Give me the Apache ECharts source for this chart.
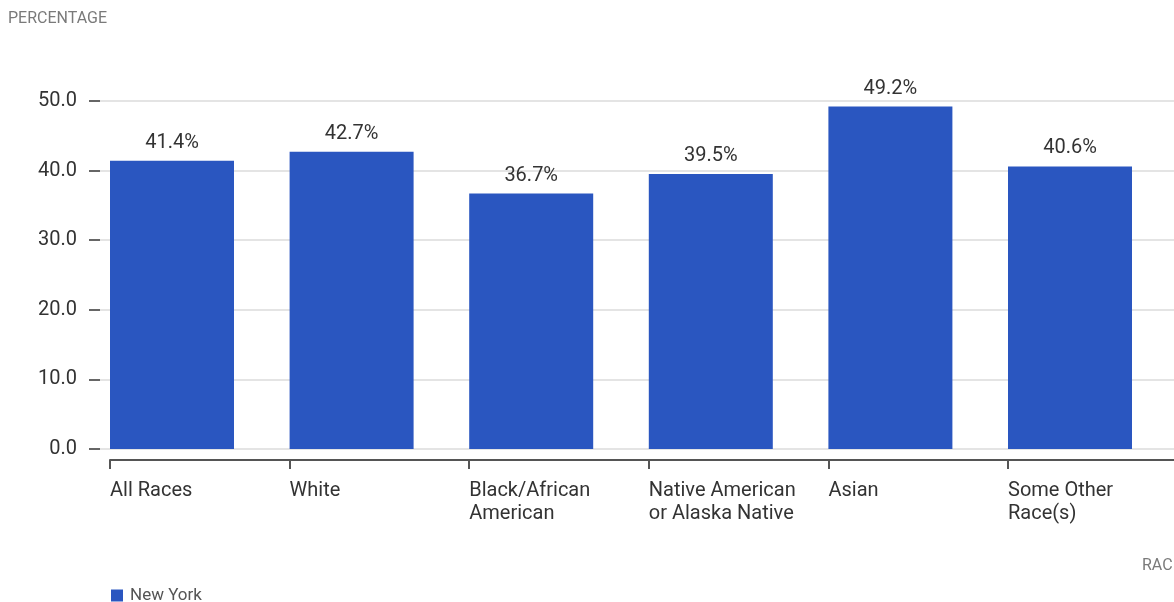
<!DOCTYPE html>
<html>
<head>
<meta charset="utf-8">
<script src="https://cdn.jsdelivr.net/npm/echarts@6/dist/echarts.min.js"></script>
<style>
  html, body { margin: 0; padding: 0; background: #fff; overflow: hidden; }
  /* wider than the window: the last category runs past the right edge */
  #chart { width: 1200px; height: 602px; }
</style>
</head>
<body>
<div id="chart"></div>
<script>
// data
const categories = [
  "All Races",
  "White",
  "Black/African\nAmerican",
  "Native American\nor Alaska Native",
  "Asian",
  "Some Other\nRace(s)",
  "",
];
const newYork = [41.4, 42.7, 36.7, 39.5, 49.2, 40.6, "-"];
const yTicks = [0, 10, 20, 30, 40, 50];

const font = "Roboto";
const barColor = "#2a56c0";

var chartDom = document.getElementById("chart");
var mychart = echarts.init(chartDom);

var option = {
  animation: false,
  title: [
    {
      text: "PERCENTAGE",
      left: 8,
      top: 11,
      padding: 0,
      textStyle: { fontFamily: font, fontSize: 16, fontWeight: "normal", color: "#7a7a7a" },
    },
    {
      text: "RACE",
      left: 1142,
      top: 558,
      padding: 0,
      textStyle: { fontFamily: font, fontSize: 16, fontWeight: "normal", color: "#7a7a7a" },
    },
  ],
  legend: {
    data: ["New York"],
    left: 111,
    top: 587,
    padding: 0,
    icon: "rect",
    itemWidth: 12,
    itemHeight: 12,
    textStyle: { fontFamily: font, fontSize: 17, color: "#555", padding: [0, 0, 0, 2] },
  },
  // grid 0 carries the y gridlines, grid 1 the bars and category axis
  grid: [
    { left: 100, width: 1074, top: 101, bottom: 153 },
    { left: 110, width: 1077.6, top: 101, bottom: 153 },
  ],
  xAxis: [
    { type: "value", gridIndex: 0, show: false },
    {
      type: "category",
      gridIndex: 1,
      data: categories,
      boundaryGap: false,
      offset: 11,
      axisLine: { show: true, onZero: false, lineStyle: { color: "#555", width: 2 } },
      axisTick: { show: true, length: 9, lineStyle: { color: "#555", width: 2 } },
      axisLabel: {
        fontFamily: font,
        fontSize: 20,
        color: "#333",
        align: "left",
        verticalAlign: "top",
        lineHeight: 23,
        margin: 19,
        interval: 0,
      },
      splitLine: { show: false },
    },
  ],
  yAxis: [
    {
      type: "value",
      gridIndex: 0,
      min: yTicks[0],
      max: yTicks[yTicks.length - 1],
      interval: 10,
      axisLine: { show: false },
      axisTick: { show: true, length: 11, lineStyle: { color: "#666", width: 2 } },
      axisLabel: {
        fontFamily: font,
        fontSize: 20,
        color: "#333",
        margin: 23,
        formatter: (v) => v.toFixed(1),
      },
      splitLine: { show: true, lineStyle: { color: "#e4e4e4", width: 2 } },
    },
    {
      type: "value",
      gridIndex: 1,
      min: yTicks[0],
      max: yTicks[yTicks.length - 1],
      interval: 10,
      show: false,
      splitLine: { show: false },
    },
  ],
  series: [
    {
      // invisible spacer so the real bar starts at the tick
      name: "spacer",
      type: "bar",
      xAxisIndex: 1,
      yAxisIndex: 1,
      data: newYork.map(() => 0),
      barWidth: 124,
      barGap: "0%",
      itemStyle: { color: "rgba(0,0,0,0)" },
      silent: true,
    },
    {
      name: "New York",
      type: "bar",
      xAxisIndex: 1,
      yAxisIndex: 1,
      data: newYork,
      barWidth: 124,
      barGap: "0%",
      itemStyle: { color: barColor },
      label: {
        show: true,
        position: "top",
        distance: 8,
        fontFamily: font,
        fontSize: 20,
        color: "#333",
        formatter: (p) => p.value + "%",
      },
    },
  ],
};

mychart.setOption(option);
</script>
</body>
</html>
